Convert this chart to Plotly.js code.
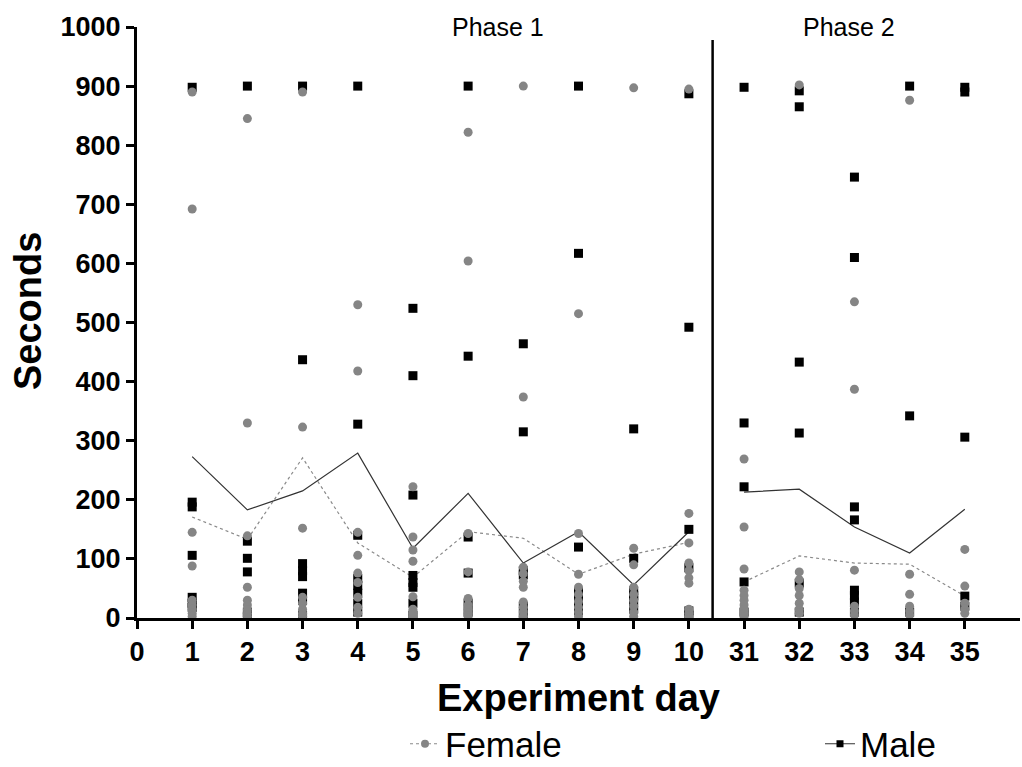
<!DOCTYPE html>
<html><head><meta charset="utf-8">
<script src="https://cdn.plot.ly/plotly-3.0.1.min.js"></script>
<style>html,body{margin:0;padding:0;background:#fff}#chart{width:1022px;height:767px}</style>
</head><body><div id="chart"></div>
<script>
const dayLabels = ['0','1','2','3','4','5','6','7','8','9','10','31','32','33','34','35'];
const days = ['1','2','3','4','5','6','7','8','9','10','31','32','33','34','35'];
const femaleByDay = [
  [890, 692, 145, 88, 30, 22, 15, 8, 3],
  [845, 330, 139, 52, 30, 22, 14, 8, 3],
  [890, 323, 152, 35, 25, 15, 8, 3],
  [530, 418, 145, 106, 76, 60, 35, 18, 8],
  [222, 137, 115, 96, 36, 15, 8, 3],
  [822, 604, 143, 78, 33, 22, 15, 8, 3],
  [900, 374, 86, 75, 62, 52, 27, 18, 10, 3],
  [515, 143, 74, 52, 40, 28, 18, 10, 3],
  [897, 118, 90, 52, 40, 30, 20, 10, 3],
  [895, 177, 127, 93, 80, 68, 59, 15, 8, 3],
  [269, 154, 83, 47, 38, 30, 22, 15, 8, 2],
  [902, 78, 65, 50, 38, 25, 15, 8],
  [535, 387, 81, 20, 12, 5],
  [876, 74, 40, 20, 12, 5],
  [116, 54, 25, 15, 8]
];
const maleByDay = [
  [898, 196, 188, 106, 35, 25, 18],
  [900, 130, 101, 78, 10, 3],
  [900, 437, 92, 80, 70, 42, 30, 5],
  [900, 328, 140, 67, 55, 42, 25, 10],
  [524, 410, 208, 72, 60, 52, 25, 5],
  [900, 443, 137, 76, 25, 10],
  [464, 315, 80, 73, 20, 5],
  [900, 617, 120, 45, 36, 25, 12],
  [320, 101, 46, 38, 30, 15],
  [887, 492, 150, 85, 12, 5],
  [898, 330, 222, 61, 10],
  [892, 865, 433, 313, 59, 10],
  [746, 610, 188, 166, 47, 38, 27, 10],
  [900, 342, 10],
  [898, 890, 306, 37, 20]
];
const femaleMean = [171, 133, 271, 127, 69, 146, 135, 74, 108, 128, 61, 105, 93, 91, 37];
const maleMean = [273, 183, 215, 279, 118, 211, 93, 146, 56, 146, 213, 218, 154, 110, 184];
const tickValues = [0,1,2,3,4,5,6,7,8,9,10,11,12,13,14,15];

const pos = d => dayLabels.indexOf(d);
function flatten(byDay){
  const xs=[], ys=[];
  byDay.forEach((arr,i)=>arr.forEach(v=>{xs.push(pos(days[i])); ys.push(v);}));
  return {xs, ys};
}
const f = flatten(femaleByDay), m = flatten(maleByDay);
const phase1 = days.slice(0,10).map(pos), phase2 = days.slice(10).map(pos);
const grey = '#858585';

const traces = [
  {x: phase1, y: femaleMean.slice(0,10), mode:'lines', line:{color:'#8a8a8a', width:1.2, dash:'dot'}, showlegend:false, hoverinfo:'skip'},
  {x: phase2, y: femaleMean.slice(10), mode:'lines', line:{color:'#8a8a8a', width:1.2, dash:'dot'}, showlegend:false, hoverinfo:'skip'},
  {x: phase1, y: maleMean.slice(0,10), mode:'lines', line:{color:'#333', width:1.2}, showlegend:false, hoverinfo:'skip'},
  {x: phase2, y: maleMean.slice(10), mode:'lines', line:{color:'#333', width:1.2}, showlegend:false, hoverinfo:'skip'},
  {x: m.xs, y: m.ys, mode:'markers', marker:{symbol:'square', size:9, color:'#000'}, showlegend:false},
  {x: f.xs, y: f.ys, mode:'markers', marker:{symbol:'circle', size:9, color:grey}, showlegend:false},
  {x:[null], y:[null], mode:'lines+markers', name:'Female', legend:'legend', line:{color:'#8a8a8a', width:1.2, dash:'dot'}, marker:{symbol:'circle', size:8, color:grey}},
  {x:[null], y:[null], mode:'lines+markers', name:'Male', legend:'legend2', line:{color:'#333', width:1.2}, marker:{symbol:'square', size:7, color:'#000'}}
];

const font = 'Liberation Sans, Arial, sans-serif';
const px2x = p => (p - 137) / 883;
const px2y = p => (618 - p) / 591;
const layout = {
  width:1022, height:767,
  margin:{l:137, r:2, t:27, b:149, autoexpand:false},
  paper_bgcolor:'#fff', plot_bgcolor:'#fff',
  font:{family:font, color:'#000'},
  xaxis:{
    range:[0,16], tickmode:'array', tickvals:tickValues, ticktext:dayLabels,
    showgrid:false, zeroline:false, showline:true, linecolor:'#000', linewidth:3,
    ticks:'outside', ticklen:8, tickwidth:3, tickcolor:'#000',
    tickfont:{size:27, family:font, weight:'bold'},
    title:{text:'<b>Experiment day</b>', font:{size:38, family:font}, standoff:18}
  },
  yaxis:{
    range:[0,1000], tickmode:'linear', tick0:0, dtick:100,
    showgrid:false, zeroline:false, showline:true, linecolor:'#000', linewidth:3,
    ticks:'outside', ticklen:8, tickwidth:3, tickcolor:'#000',
    tickfont:{size:27, family:font, weight:'bold'}
  },
  shapes:[{type:'line', xref:'x', yref:'paper', x0:10.43, x1:10.43, y0:0, y1:0.978, line:{color:'#000', width:2.5}}],
  annotations:[
    {text:'Phase 1', x:6.55, y:1.0, xref:'x', yref:'paper', yanchor:'middle', showarrow:false, font:{size:25, family:font}},
    {text:'Phase 2', x:12.9, y:1.0, xref:'x', yref:'paper', yanchor:'middle', showarrow:false, font:{size:25, family:font}},
    {text:'<b>Seconds</b>', textangle:-90, x:px2x(28), y:px2y(311), xref:'paper', yref:'paper', xanchor:'center', yanchor:'middle', showarrow:false, font:{size:38, family:font}}
  ],
  legend:{orientation:'h', x:px2x(405), xanchor:'left', y:px2y(744), yanchor:'middle', font:{size:35, family:font}},
  legend2:{orientation:'h', x:px2x(820), xanchor:'left', y:px2y(744), yanchor:'middle', font:{size:35, family:font}}
};
Plotly.newPlot('chart', traces, layout, {displayModeBar:false, staticPlot:true});
</script></body></html>
